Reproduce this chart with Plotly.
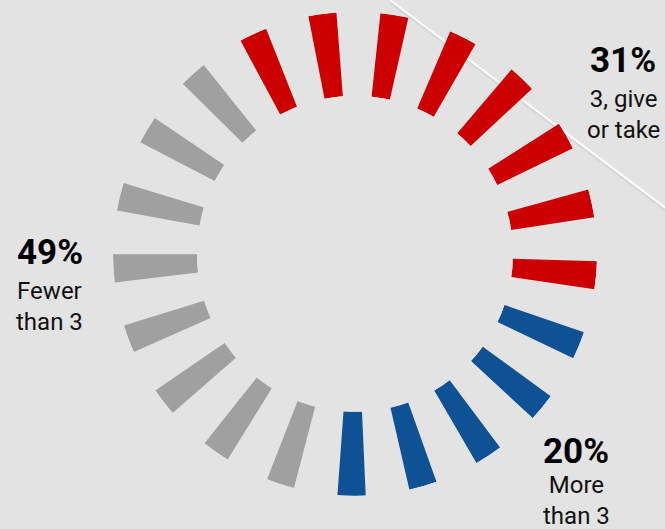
import plotly.graph_objects as go

# Answer groups, their share of respondents, and how many gauge ticks each fills
groups = ["3, give or take", "More than 3", "Fewer than 3"]
shares = [31, 20, 49]
tick_counts = [8, 5, 8]
group_colors = ["#CC0000", "#0E5194", "#A0A0A0"]

n_ticks = sum(tick_counts)
step = 360 / n_ticks
start_angle = -24.9      # centre of the first tick, degrees clockwise from 12 o'clock
tick_width = 6.7         # angular width of a tick, degrees

W, H = 665, 529
BG = "#E3E3E3"

fig = go.Figure()

k = 0
for name, count, color in zip(groups, tick_counts, group_colors):
    thetas = [start_angle + (k + i) * step for i in range(count)]
    k += count
    fig.add_trace(go.Barpolar(
        r=[1] * count,
        theta=thetas,
        width=[tick_width] * count,
        marker=dict(color=color, line=dict(width=0)),
        name=name,
        hoverinfo="skip",
    ))

# Gauge geometry in pixels: centre and outer radius
cx, cy, R = 355, 253.8, 242
fig.update_layout(
    width=W, height=H,
    margin=dict(l=0, r=0, t=0, b=0),
    paper_bgcolor=BG,
    plot_bgcolor=BG,
    showlegend=False,
    polar=dict(
        domain=dict(x=[(cx - R) / W, (cx + R) / W],
                    y=[(H - cy - R) / H, (H - cy + R) / H]),
        hole=0.653,
        bgcolor="rgba(0,0,0,0)",
        radialaxis=dict(visible=False, range=[0, 1], showgrid=False),
        angularaxis=dict(visible=False, rotation=90, direction="clockwise",
                         showgrid=False),
        bargap=0,
    ),
)

# Thin white diagonal rule behind the gauge, with a faint shadow
def px_line(x0, y0, x1, y1, color, width):
    fig.add_shape(type="line", xref="paper", yref="paper",
                  x0=x0 / W, y0=1 - y0 / H, x1=x1 / W, y1=1 - y1 / H,
                  line=dict(color=color, width=width), layer="below")

px_line(390, 2, 667, 211, "rgba(0,0,0,0.05)", 3)
px_line(390, 0, 667, 209, "#FFFFFF", 2)

# Group labels: bold share with a caption underneath
label_pos = {
    "3, give or take": (623, 61, 115, "3, give<br>or take"),
    "More than 3": (576, 451, 500.5, "More<br>than 3"),
    "Fewer than 3": (49.5, 252.5, 306, "Fewer<br>than 3"),
}
FONT = "Roboto, Arial, sans-serif"
for name, share in zip(groups, shares):
    x, y_pct, y_cap, caption = label_pos[name]
    fig.add_annotation(x=x / W, y=1 - y_pct / H, xref="paper", yref="paper",
                       text=f"<b>{share}%</b>", showarrow=False,
                       xanchor="center", yanchor="middle",
                       font=dict(family=FONT, size=35, color="#000000", weight=900))
    fig.add_annotation(x=x / W, y=1 - y_cap / H, xref="paper", yref="paper",
                       text=caption, showarrow=False, align="center",
                       xanchor="center", yanchor="middle",
                       font=dict(family=FONT, size=24, color="#111111"))

fig.write_html("out.html")
